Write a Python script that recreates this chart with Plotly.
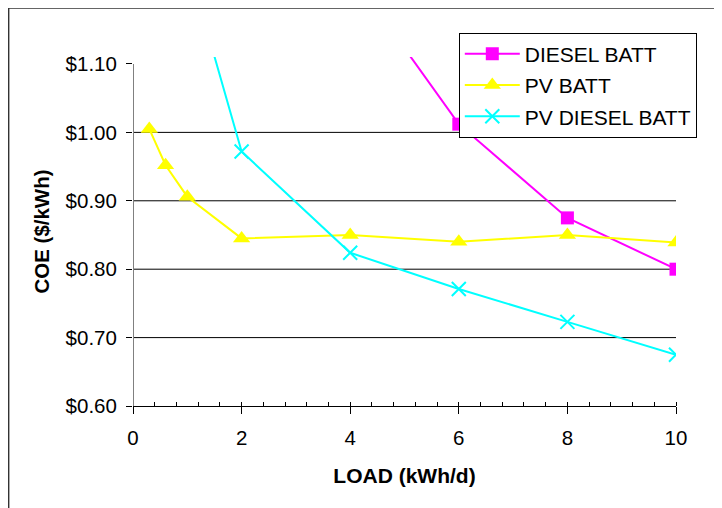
import plotly.graph_objects as go

# Data
diesel_x = [4, 6, 8, 10]
diesel_y = [1.234, 1.012, 0.875, 0.800]

pv_x = [0.3, 0.6, 1, 2, 4, 6, 8, 10]
pv_y = [1.005, 0.952, 0.906, 0.845, 0.850, 0.840, 0.850, 0.839]

pvd_x = [1, 2, 4, 6, 8, 10]
pvd_y = [1.25, 0.972, 0.824, 0.771, 0.723, 0.675]

y_ticks = [0.6, 0.7, 0.8, 0.9, 1.0, 1.1]
grid_vals = [0.7, 0.8, 0.9, 1.0]
x_ticks = [0, 2, 4, 6, 8, 10]

FONT = "Liberation Sans, Arial, sans-serif"

fig = go.Figure()
fig.add_trace(go.Scatter(
    x=diesel_x, y=diesel_y, name="DIESEL BATT", mode="lines+markers",
    line=dict(color="#FF00FF", width=2),
    marker=dict(symbol="square", size=13, color="#FF00FF"),
    legendgroup="a"))
fig.add_trace(go.Scatter(
    x=pv_x, y=pv_y, name="PV BATT", mode="lines+markers",
    line=dict(color="#FFFF00", width=2),
    marker=dict(symbol="triangle-up", size=15, color="#FFFF00"),
    legendgroup="b"))
fig.add_trace(go.Scatter(
    x=pvd_x, y=pvd_y, name="PV DIESEL BATT", mode="lines+markers",
    line=dict(color="#00FFFF", width=2),
    marker=dict(symbol="x-thin", size=14, color="#00FFFF",
                line=dict(color="#00FFFF", width=2)),
    legendgroup="c"))

shapes = []
for g in grid_vals:
    shapes.append(dict(type="line", xref="x", yref="y", x0=0, x1=10, y0=g, y1=g,
                       line=dict(color="#000000", width=1), layer="below"))
# y axis line (from $0.60 to $1.10)
shapes.append(dict(type="line", xref="x", yref="y", x0=0, x1=0,
                   y0=y_ticks[0], y1=y_ticks[-1],
                   line=dict(color="#808080", width=2)))
# outer chart border
shapes.append(dict(type="rect", xref="paper", yref="paper",
                   x0=-0.2290, x1=1.2, y0=-0.4, y1=1.1405,
                   line=dict(color="#333333", width=1.5), layer="below"))

fig.update_layout(
    width=722, height=508,
    margin=dict(l=125, r=54, t=49, b=110, autoexpand=False),
    paper_bgcolor="white", plot_bgcolor="white",
    font=dict(family=FONT, size=20, color="black"),
    showlegend=True,
    legend=dict(x=0.600, y=1.070, xanchor="left", yanchor="top",
                bgcolor="white", bordercolor="black", borderwidth=1,
                font=dict(family=FONT, size=21), itemwidth=55,
                tracegroupgap=1, traceorder="grouped"),
    shapes=shapes,
    xaxis=dict(range=[0, 10], tickvals=x_ticks, ticktext=[str(v) for v in x_ticks],
               showgrid=False, zeroline=False,
               showline=True, linecolor="black", linewidth=1,
               ticks="outside", ticklen=7, tickcolor="black", tickwidth=1,
               minor=dict(dtick=0.4, tick0=0, ticks="inside", ticklen=4,
                          tickcolor="black", tickwidth=1, showgrid=False),
               tickfont=dict(family=FONT, size=20.5),
               ticklabelstandoff=6,
               title=dict(text="<b>LOAD (kWh/d)</b>", standoff=20,
                          font=dict(family=FONT, size=21))),
    yaxis=dict(range=[0.6, 1.1102], tickvals=y_ticks,
               ticktext=["$%.2f" % v for v in y_ticks],
               showgrid=False, zeroline=False, showline=False,
               ticks="outside", ticklen=6, tickcolor="black", tickwidth=1,
               tickfont=dict(family=FONT, size=20.5),
               ticklabelstandoff=5,
               title=dict(text="<b>COE ($/kWh)</b>", standoff=10,
                          font=dict(family=FONT, size=20.5))),
)

fig.write_html("out.html")
